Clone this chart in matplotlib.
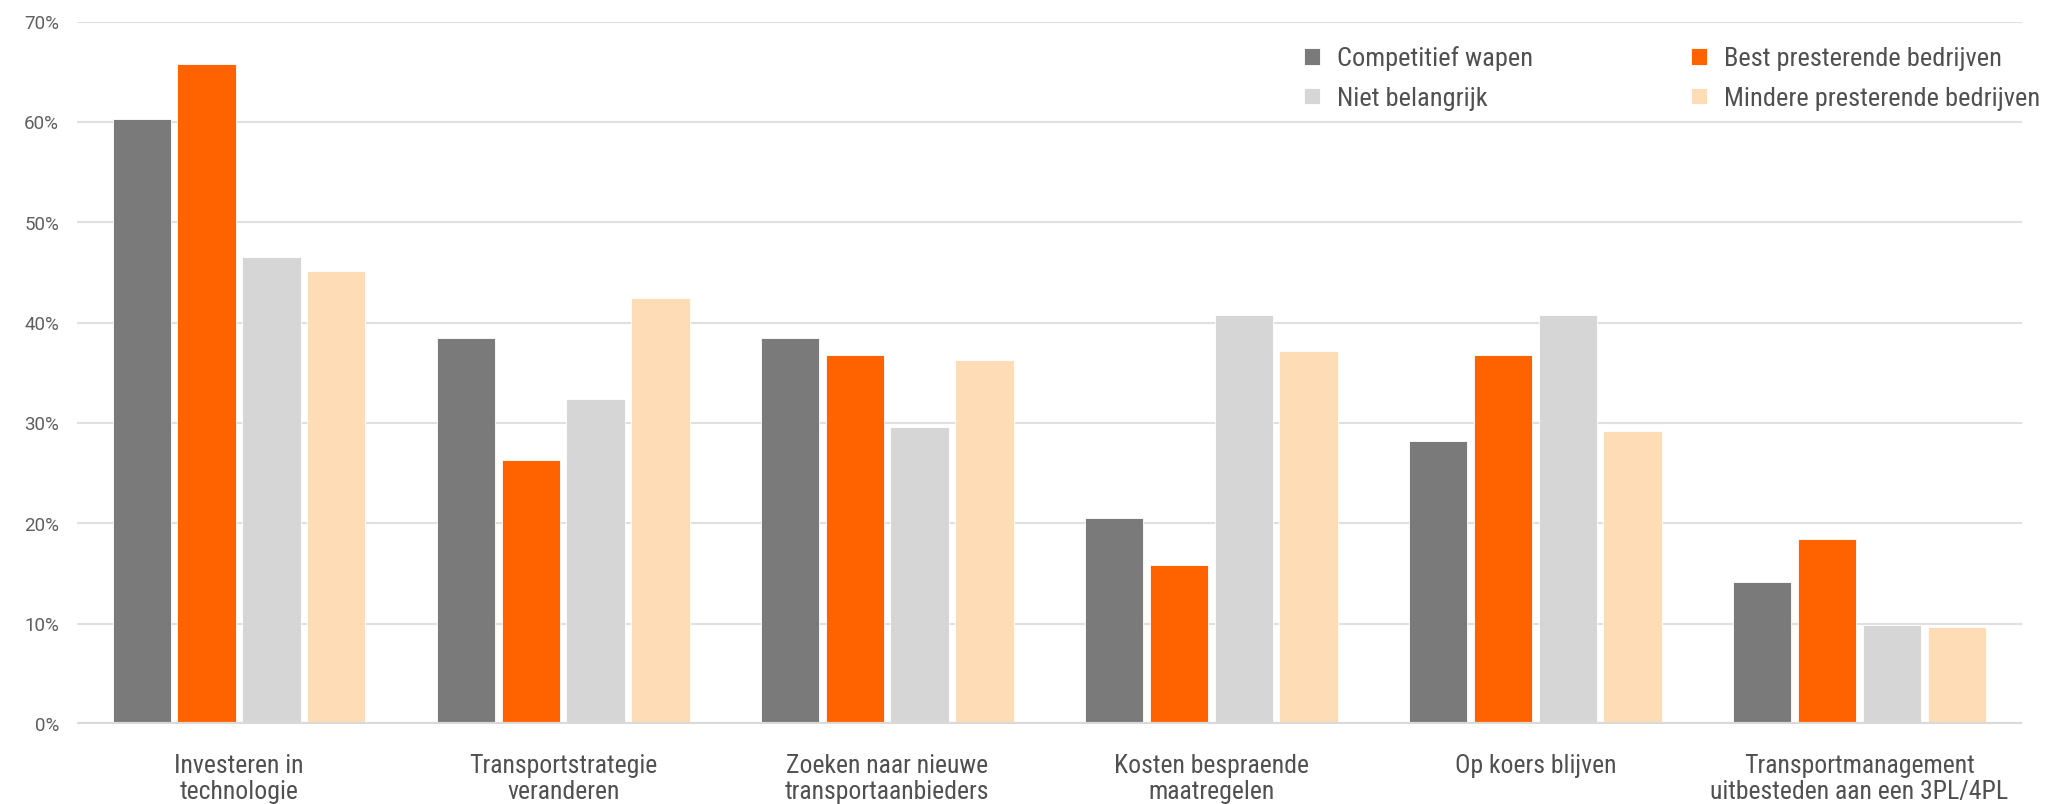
import matplotlib.pyplot as plt
import numpy as np
from matplotlib import font_manager as fm
from matplotlib.ticker import FuncFormatter

# categories and series values (percent)
categories = [
    "Investeren in\ntechnologie",
    "Transportstrategie\nveranderen",
    "Zoeken naar nieuwe\ntransportaanbieders",
    "Kosten bespraende\nmaatregelen",
    "Op koers blijven",
    "Transportmanagement\nuitbesteden aan een 3PL/4PL",
]
competitief = [60.3, 38.5, 38.5, 20.5, 28.2, 14.1]
best = [65.8, 26.3, 36.8, 15.8, 36.8, 18.4]
niet_belangrijk = [46.5, 32.4, 29.6, 40.8, 40.8, 9.9]
mindere = [45.1, 42.4, 36.3, 37.2, 29.2, 9.7]

series_names = [
    "Competitief wapen",
    "Best presterende bedrijven",
    "Niet belangrijk",
    "Mindere presterende bedrijven",
]
colors = ["#7a7a7a", "#ff6300", "#d6d6d6", "#fedcb5"]
yticks = [0, 10, 20, 30, 40, 50, 60, 70]

available = {f.name for f in fm.fontManager.ttflist}
narrow = next(
    (n for n in ["Roboto Condensed", "Liberation Sans Narrow", "Roboto"] if n in available),
    "DejaVu Sans",
)
regular = "Roboto" if "Roboto" in available else "DejaVu Sans"

fig = plt.figure(figsize=(20.48, 8.045), dpi=100)
ax = fig.add_axes([77 / 2048, 80 / 804, 1944.5 / 2048, 702 / 804])

x = np.arange(len(categories))
step = 0.2
width = 0.18
bars = []
for i, (vals, name, col) in enumerate(
    zip([competitief, best, niet_belangrijk, mindere], series_names, colors)
):
    b = ax.bar(x + (i - 1.5) * step, vals, width, color=col, label=name,
               edgecolor="white", linewidth=0.6, zorder=3)
    bars.append(b)

ax.set_xlim(-0.5, len(categories) - 0.5)
ax.set_ylim(0, 70)
ax.set_yticks(yticks)
ax.yaxis.set_major_formatter(FuncFormatter(lambda v, p: f"{v:.0f}%"))
ax.yaxis.grid(True, color="#e0e0e0", linewidth=1.5, zorder=0)
ax.axhline(0, color="#d9d9d9", linewidth=3, zorder=4)
for s in ax.spines.values():
    s.set_visible(False)
ax.tick_params(axis="both", length=0)
ax.tick_params(axis="y", pad=13, labelsize=13.5, labelcolor="#5f5f5f")
ax.tick_params(axis="x", pad=21, labelsize=18.5, labelcolor="#505050")
for t in ax.get_yticklabels():
    t.set_fontfamily(regular)
ax.set_xticks(x)
ax.set_xticklabels(categories, fontfamily=narrow, linespacing=1.12)

# legend in two columns: dark/light grey left, orange/peach right
order = [0, 2, 1, 3]
handles = [bars[i] for i in order]
labels = [series_names[i] for i in order]
fig.legend(handles, labels, loc="upper left", bbox_to_anchor=(1304 / 2048, 1 - 46 / 804),
           ncol=2, frameon=False, borderpad=0, borderaxespad=0,
           handlelength=0.6, handleheight=0.6, handletextpad=0.65,
           columnspacing=6.0, labelspacing=0.6,
           prop={"family": narrow, "size": 19}, labelcolor="#505050")

fig.savefig("out.png", dpi=100)
